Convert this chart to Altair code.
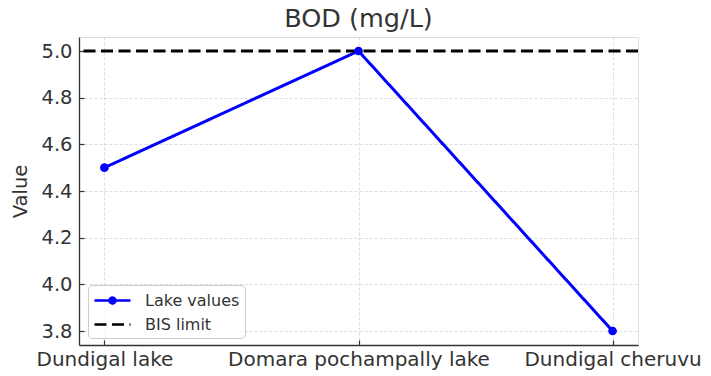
import altair as alt
import pandas as pd

# ---- data ----
lakes = ["Dundigal lake", "Domara pochampally lake", "Dundigal cheruvu"]
bod_values = [4.5, 5.0, 3.8]
bis_limit = [5.0]
series_names = ["Lake values", "BIS limit"]
y_ticks = [3.8, 4.0, 4.2, 4.4, 4.6, 4.8, 5.0]

df = pd.DataFrame({"lake": lakes, "value": bod_values, "series": series_names[0]})
limit_df = pd.DataFrame({"value": bis_limit, "series": series_names[1]})

FONT = "DejaVu Sans"
TXT = "#333333"
GRID = "#d4d4d4"

# legend glyphs: line with a dot, and a plain line (dash comes from strokeDash scale)
LAKE_PATH = "M-1,0L3,0M0.67,0A0.33,0.33,0,1,0,1.33,0A0.33,0.33,0,1,0,0.67,0Z"
LIMIT_PATH = "M-1,0L3,0"

x_scale = alt.Scale(type="point", padding=0.1, domain=lakes)
y_scale = alt.Scale(domain=[3.74, 5.06], nice=False, zero=False)
stroke_scale = alt.Scale(domain=series_names, range=["#0000ff", "#000000"])
dash_scale = alt.Scale(domain=series_names, range=[[1, 0], [12, 5.5]])
shape_scale = alt.Scale(domain=series_names, range=[LAKE_PATH, LIMIT_PATH])

main_x_axis = alt.Axis(
    title=None, orient="bottom", grid=True, gridColor=GRID, gridDash=[3, 2], gridWidth=0.8,
    domain=True, domainColor=TXT, domainWidth=1.3,
    ticks=True, tickSize={"expr": "-5"}, tickColor=TXT, tickWidth=1.2,
    labelFont=FONT, labelFontSize=20, labelColor=TXT, labelPadding=9, labelAngle=0,
    labelLimit=400,
)
main_y_axis = alt.Axis(
    title="Value", orient="left", values=y_ticks, format=".1f",
    grid=True, gridColor=GRID, gridDash=[3, 2], gridWidth=0.8,
    domain=True, domainColor=TXT, domainWidth=1.3,
    ticks=True, tickSize={"expr": "-5"}, tickColor=TXT, tickWidth=1.2,
    labelFont=FONT, labelFontSize=19.5, labelColor=TXT, labelPadding=12,
    titleFont=FONT, titleFontSize=19.5, titleFontWeight="normal", titleColor=TXT, titlePadding=10,
)

legend = alt.Legend(
    title=None, orient="none", legendX=9, legendY=248,
    symbolSize=324, symbolStrokeWidth=2.5, symbolFillColor="#0000ff",
    labelFont=FONT, labelFontSize=16, labelColor=TXT, labelOffset=31,
    padding=5, rowPadding=5, strokeColor="#cccccc", fillColor="rgba(255,255,255,0.8)",
    cornerRadius=4,
)

legend_layer = alt.Chart(df).transform_filter("false").mark_point(
    filled=True, fill="#0000ff", opacity=1, size=324, strokeWidth=2.5
).encode(
    shape=alt.Shape("series:N", scale=shape_scale, legend=legend),
    stroke=alt.Stroke("series:N", scale=stroke_scale, legend=legend),
    strokeDash=alt.StrokeDash("series:N", scale=dash_scale, legend=legend),
)

line = alt.Chart(df).mark_line(strokeWidth=3).encode(
    x=alt.X("lake:N", scale=x_scale, sort=lakes, axis=main_x_axis),
    y=alt.Y("value:Q", scale=y_scale, axis=main_y_axis),
    stroke=alt.Stroke("series:N", scale=stroke_scale, legend=legend),
    strokeDash=alt.StrokeDash("series:N", scale=dash_scale, legend=legend),
)

limit = alt.Chart(limit_df).mark_rule(strokeWidth=2.8).encode(
    y=alt.Y("value:Q", scale=y_scale, axis=main_y_axis),
    stroke=alt.Stroke("series:N", scale=stroke_scale, legend=legend),
    strokeDash=alt.StrokeDash("series:N", scale=dash_scale, legend=legend),
)

points = alt.Chart(df).mark_circle(size=75, color="#0000ff", opacity=1).encode(
    x=alt.X("lake:N", scale=x_scale, sort=lakes, axis=main_x_axis),
    y=alt.Y("value:Q", scale=y_scale, axis=main_y_axis),
)

chart = alt.layer(legend_layer, line, limit, points).properties(
    width=559,
    height=308,
    padding={"left": 79, "top": 37, "right": 73, "bottom": 31},
    autosize=alt.AutoSizeParams(type="none"),
    title=alt.TitleParams(
        "BOD (mg/L)", font=FONT, fontSize=25.5, fontWeight="normal", color=TXT,
        anchor="middle", frame="group", offset=5,
    ),
).configure_view(stroke=None).configure(background="white")

chart.save("out.html", embed_options={"renderer": "svg", "actions": False})
